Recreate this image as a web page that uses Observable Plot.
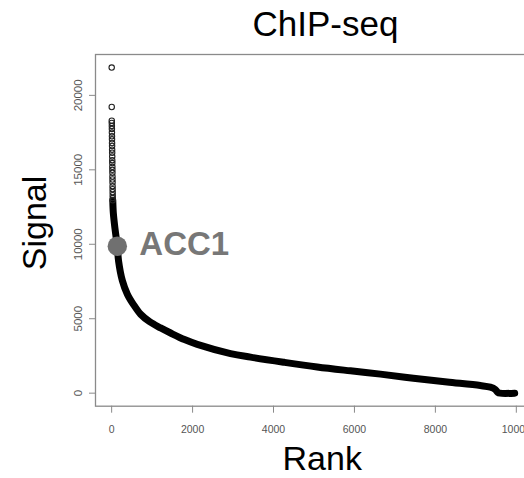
<!DOCTYPE html>
<html>
<head>
<meta charset="utf-8">
<script src="https://cdn.jsdelivr.net/npm/d3@7"></script>
<script src="https://cdn.jsdelivr.net/npm/@observablehq/plot@0.6"></script>
<style>
  html, body { margin: 0; padding: 0; background: white; overflow: hidden; }
  #chart svg { display: block; }
</style>
</head>
<body>
<div id="chart"></div>
<script>
const title = "ChIP-seq";
const xLabel = "Rank";
const yLabel = "Signal";
const xTicks = [0, 2000, 4000, 6000, 8000, 10000];
const yTicks = [0, 5000, 10000, 15000, 20000];

// top-ranked peaks drawn as separate open circles
const topRank = [1, 2, 3, 4, 5, 6, 7, 8, 9, 10, 11, 12, 13, 14, 15, 16, 17, 18, 19, 20, 21, 22, 23, 24, 25, 26, 27, 28];
const topSignal = [21870, 19220, 18300, 18150, 17950, 17750, 17500, 17250, 17050, 16800, 16600, 16350, 16150, 15900, 15650, 15450, 15200, 15000, 14800, 14550, 14350, 14150, 13900, 13700, 13500, 13300, 13100, 12950];

// dense body of the ranked signal curve
const curveRank = [28, 42, 85, 140, 170, 264, 388, 540, 716, 938, 1210, 1457, 1800, 2116, 2938, 3432, 4247, 5079, 5901, 6642, 7457, 8289, 9111, 9358, 9480, 9540, 9600, 9960];
const curveSignal = [12950, 12080, 11000, 9870, 8900, 7570, 6650, 5950, 5300, 4800, 4380, 4040, 3600, 3280, 2660, 2420, 2080, 1760, 1500, 1280, 1000, 750, 510, 400, 250, 60, 0, 0];

// highlighted gene
const hiLabel = ["ACC1"];
const hiRank = [140];
const hiSignal = [9870];

const xDomain = [-399, 10400];
const yDomain = [-875, 22745];
const font = "'Liberation Sans', Arial, Helvetica, sans-serif";

const chart = Plot.plot({
  width: 524,
  height: 478,
  marginLeft: 95,
  marginRight: -8,
  marginTop: 54,
  marginBottom: 72.3,
  x: {domain: xDomain},
  y: {domain: yDomain},
  style: {fontFamily: font, background: "white", color: "#666"},
  marks: [
    Plot.frame({stroke: "#8a8a8a", strokeWidth: 1.3}),
    Plot.axisY({ticks: yTicks, tickSize: 6, tickFormat: () => "", stroke: "#8a8a8a", label: null}),
    Plot.axisX({ticks: xTicks, tickSize: 7, tickFormat: () => "", stroke: "#8a8a8a", label: null}),
    Plot.text(yTicks, {y: d => d, text: d => String(d), frameAnchor: "left", dx: -17.5, rotate: -90, fontSize: 11.5, fill: "#555", textAnchor: "middle", lineAnchor: "middle"}),
    Plot.text(xTicks, {x: d => d, text: d => String(d), frameAnchor: "bottom", dy: 23.3, fontSize: 10.5, fill: "#555", textAnchor: "middle", lineAnchor: "middle"}),
    Plot.line(curveSignal, {x: curveRank, y: curveSignal, stroke: "black", strokeWidth: 7, curve: "catmull-rom", strokeLinecap: "round", strokeLinejoin: "round"}),
    Plot.dot(topSignal, {x: topRank, y: topSignal, r: 2.7, stroke: "#222", strokeWidth: 1.1, fill: "none"}),
    Plot.dot(hiSignal, {x: hiRank, y: hiSignal, r: 9.7, fill: "#707070", stroke: "none"}),
    Plot.text(hiLabel, {x: hiRank, y: hiSignal, text: d => d, dx: 22, dy: -2, textAnchor: "start", lineAnchor: "middle", fontSize: 33, fontWeight: "bold", fill: "#777"}),
    Plot.text([title], {text: d => d, frameAnchor: "top", dx: 11.5, dy: -30, fontSize: 35, fill: "black", textAnchor: "middle", lineAnchor: "middle"}),
    Plot.text([xLabel], {text: d => d, frameAnchor: "bottom", dx: 8.2, dy: 53.3, fontSize: 34, fill: "black", textAnchor: "middle", lineAnchor: "middle"}),
    Plot.text([yLabel], {text: d => d, frameAnchor: "left", dx: -60, dy: -7.4, rotate: -90, fontSize: 34, fill: "black", textAnchor: "middle", lineAnchor: "middle"})
  ]
});
document.getElementById("chart").appendChild(chart);
</script>
</body>
</html>
